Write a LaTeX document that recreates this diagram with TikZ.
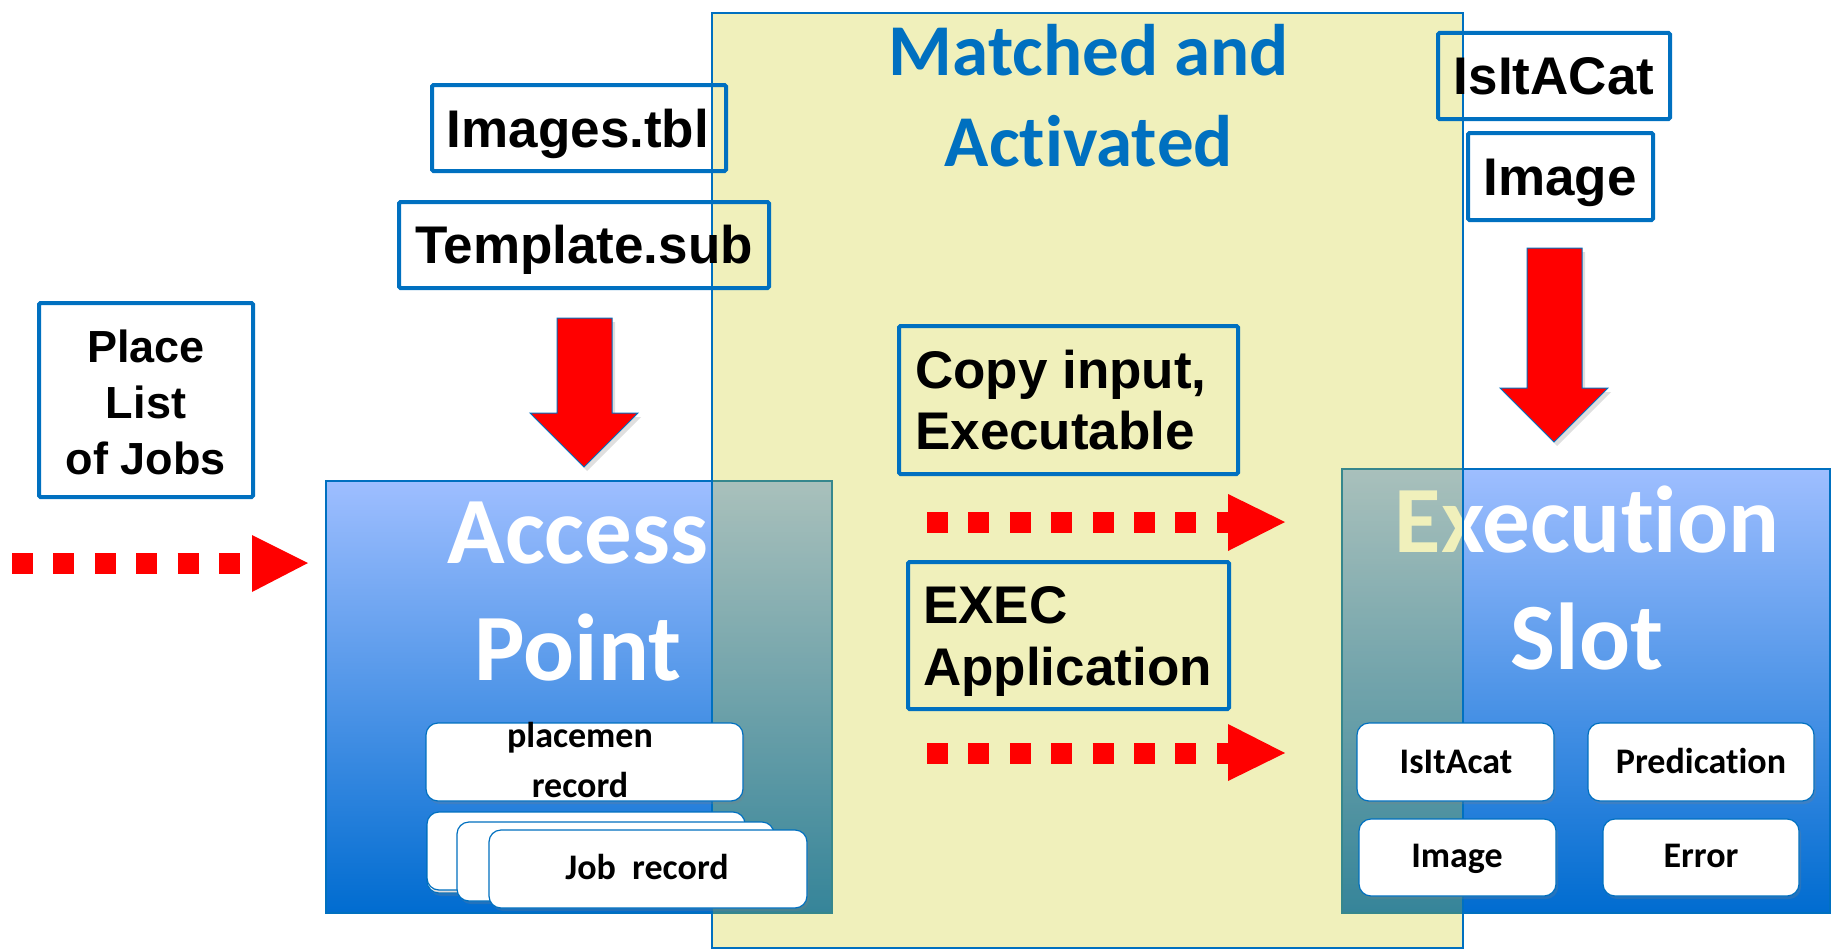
\documentclass[tikz,border=0pt]{standalone}
\usepackage{fontspec}
\setmainfont{Liberation Sans}
\newfontfamily\carl[Ligatures={NoCommon,NoContextual},RawFeature={-liga;-clig;-dlig}]{Carlito}
\usetikzlibrary{fit,shadows}
\definecolor{boxblue}{RGB}{0,112,192}
\definecolor{gtop}{RGB}{158,190,255}
\definecolor{gbot}{RGB}{0,108,208}
\definecolor{olivey}{RGB}{200,200,7}
\definecolor{arrred}{RGB}{255,0,0}
\newcommand\mytab[2][c]{\begin{tabular}[t]{@{}#1@{}}#2\end{tabular}}
\newcommand\nl{\kern0pt}
\tikzset{
  bigbox/.style={draw=boxblue, line width=1.2pt, top color=gtop, bottom color=gbot, inner sep=0pt},
  zone/.style={draw=boxblue, line width=1.2pt, fill=olivey, fill opacity=0.27, inner sep=0pt},
  recbox/.style={draw=boxblue, line width=1.2pt, fill=white, rounded corners=12pt, inner sep=0pt,
    drop shadow={opacity=0.25, shadow xshift=2pt, shadow yshift=-3pt}},
  lblbox/.style={draw=boxblue, line width=4pt, rounded corners=1.5pt, inner sep=0pt},
  lbltxt/.style={font=\fontsize{53}{62}\selectfont\bfseries, inner sep=0pt, anchor=base},
  rectxt/.style={font=\carl\fontsize{36}{50}\selectfont\bfseries, inner sep=0pt, anchor=base},
  titletxt/.style={font=\carl\fontsize{95}{117}\selectfont\bfseries, text=white, inner sep=0pt, anchor=base},
  dots/.style={draw=arrred, line width=21pt, dash pattern=on 21pt off 20.4pt},
  dothead/.style={fill=arrred},
  blockarrow/.style={fill=arrred, draw=boxblue, line width=1pt,
    drop shadow={opacity=0.25, shadow xshift=3pt, shadow yshift=-4pt}}
}
\begin{document}
\begin{tikzpicture}[x=1pt,y=-1pt]
\useasboundingbox (0,0) rectangle (1839,950);
\fill[white] (0,0) rectangle (1839,950);

% big blue boxes
\node[bigbox, fit={(326,481) (832,913)}] (ap) {};
\node[titletxt] (apt) at (578,563) {\mytab{Access\\Point}};
\node[bigbox, fit={(1342,469) (1830,913)}] (es) {};
\node[titletxt] (est) at (1587,552) {\mytab{Execut\nl ion\\Slot}};

% matched zone
\node[zone, fit={(712,13) (1463,948)}] (zone) {};

% records in access point
\node[recbox, fit={(426,723) (743,801)}] (plrec) {};
\node[rectxt] (plrect) at (580,747) {\mytab{placemen\\record}};
\node[recbox, fit={(427,815) (745,893)}] (jr0) {};
\node[recbox, fit={(427,812) (745,890)}] (jr1) {};
\node[recbox, fit={(457,822) (774,901)}] (jr2) {};
\node[recbox, fit={(489,830) (807,908)}] (jr3) {};
\node[rectxt] (jr3t) at (647,879) {Job~~record};

% records in execution slot
\node[recbox, fit={(1357,723) (1554,801)}] (r1) {};
\node[rectxt] at (1456,773) {IsItAcat};
\node[recbox, fit={(1588,723) (1814,801)}] (r2) {};
\node[rectxt] at (1701,773) {Predicat\nl ion};
\node[recbox, fit={(1359,819) (1556,896)}] (r3) {};
\node[rectxt] at (1457,867) {Image};
\node[recbox, fit={(1603,819) (1799,896)}] (r4) {};
\node[rectxt] at (1701,867) {Error};

% label boxes
\node[lblbox, fit={(432,85) (726,171)}] (imgtbl) {};
\node[lbltxt] (imgtblt) at (578,147) {Images.tbl};
\node[lblbox, fit={(399,202) (769,288)}] (tmpl) {};
\node[lbltxt] (tmplt) at (584,263) {Template.sub};
\node[lblbox, fit={(39,303) (253,497)}] (place) {};
\node[lbltxt, font=\fontsize{45}{56}\selectfont\bfseries] (placet) at (146,362) {\mytab{Place\\List\\of Jobs}};
\node[lblbox, fit={(1438,33) (1670,119)}] (iac) {};
\node[lbltxt] (iact) at (1554,94) {IsItACat};
\node[lblbox, fit={(1468,133) (1653,220)}] (img) {};
\node[lbltxt] (imgt) at (1560,195) {Image};
\node[lblbox, fit={(899,326) (1238,474)}] (copy) {};
\node[lbltxt, anchor=base west, font=\fontsize{53}{61}\selectfont\bfseries] (copyt) at (915,388) {\mytab[l]{Copy input,\\Executable}};
\node[lblbox, fit={(908,562) (1229,709)}] (exec) {};
\node[lbltxt, anchor=base west, font=\fontsize{53}{62}\selectfont\bfseries] (exect) at (923,623) {\mytab[l]{EXEC\\Application}};

% title of zone
\node[font=\carl\fontsize{73}{91}\selectfont\bfseries, text=boxblue, inner sep=0pt, anchor=base] (zonet) at (1089,75) {\mytab{Matched and\\Activat\nl ed}};

% block arrows
\path[blockarrow] (557,318) -- (612,318) -- (612,413) -- (638,413) -- (584,467) -- (530,413) -- (557,413) -- cycle;
\path[blockarrow] (1527,248) -- (1582,248) -- (1582,388) -- (1608,388) -- (1554,442) -- (1500,388) -- (1527,388) -- cycle;

% dotted arrows
\coordinate (d1s) at (12,563);
\coordinate (d1e) at (240,563);
\draw[dots] (d1s) -- (d1e);
\fill[dothead] (252,535) -- (308,563) -- (252,592) -- cycle;
\coordinate (d2s) at (927,522);
\coordinate (d2e) at (1238,522);
\draw[dots] (d2s) -- (d2e);
\fill[dothead] (1228,494) -- (1285,522) -- (1228,551) -- cycle;
\coordinate (d3s) at (927,753);
\coordinate (d3e) at (1238,753);
\draw[dots] (d3s) -- (d3e);
\fill[dothead] (1228,724) -- (1285,753) -- (1228,781) -- cycle;
\end{tikzpicture}
\end{document}
